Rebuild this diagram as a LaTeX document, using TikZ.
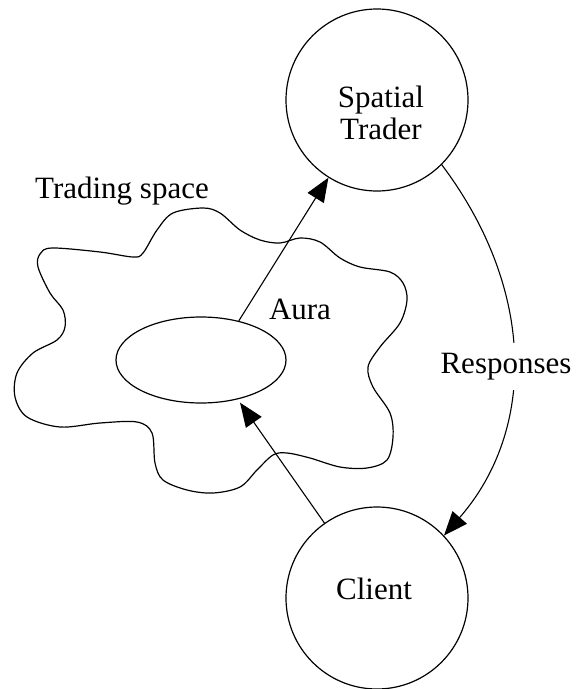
\documentclass[tikz,border=0pt]{standalone}
\usepackage{fontspec}
\setmainfont{Liberation Serif}
\usetikzlibrary{shapes.geometric,arrows.meta}
\begin{document}
\begin{tikzpicture}[x=1pt,y=-1pt, line width=1.2pt,
  agent/.style={draw, circle, minimum size=182pt, inner sep=0pt},
  txt/.style={font=\fontsize{31}{32}\selectfont, anchor=base, inner sep=0pt, align=center},
  arr/.style={line width=1.1pt, -{Triangle[length=24pt,width=19pt]}}]
\useasboundingbox (0,0) rectangle (582,689);
% trading space
\draw plot[smooth cycle, tension=0.55] coordinates {
(203,208) (220,213) (240,230) (260,240) (280,243) (300,238) (320,242) (340,258)
(360,267) (390,272) (403,283) (407,300) (400,323) (380,347) (368,367) (373,387)
(390,413) (393,437) (387,460) (367,468) (340,467) (310,458) (287,453) (273,455)
(257,470) (240,487) (213,493) (187,490) (163,480) (155,463) (152,433) (137,422)
(100,423) (60,427) (27,417) (15,397) (17,373) (33,353) (57,340) (65,327)
(63,310) (50,293) (38,267) (40,254) (52,248) (100,252) (133,257) (143,253)
(157,230) (173,213)};
\node[draw, ellipse, minimum width=170pt, minimum height=86pt, inner sep=0pt] (aura) at (201,360) {};
\node[agent] (st) at (377,100) {};
\node[agent] (client) at (377,598) {};
\node[txt] (sttext) at (381,139) {Spatial\\Trader};
\node[txt] (clienttext) at (374,599) {Client};
\node[txt] (auratext) at (300,319) {Aura};
\node[txt] (tradingtext) at (122,198) {Trading space};
\draw[arr] (aura.46) -- (st);
\draw[arr, shorten >=4pt] (client) -- (aura.-47);
\draw[arr] (st.-45) .. controls (536,290) and (536,430) .. (client.43);
\node[txt, fill=white, inner xsep=2pt, inner ysep=10pt] (resp) at (506,373) {Responses};
\end{tikzpicture}
\end{document}
